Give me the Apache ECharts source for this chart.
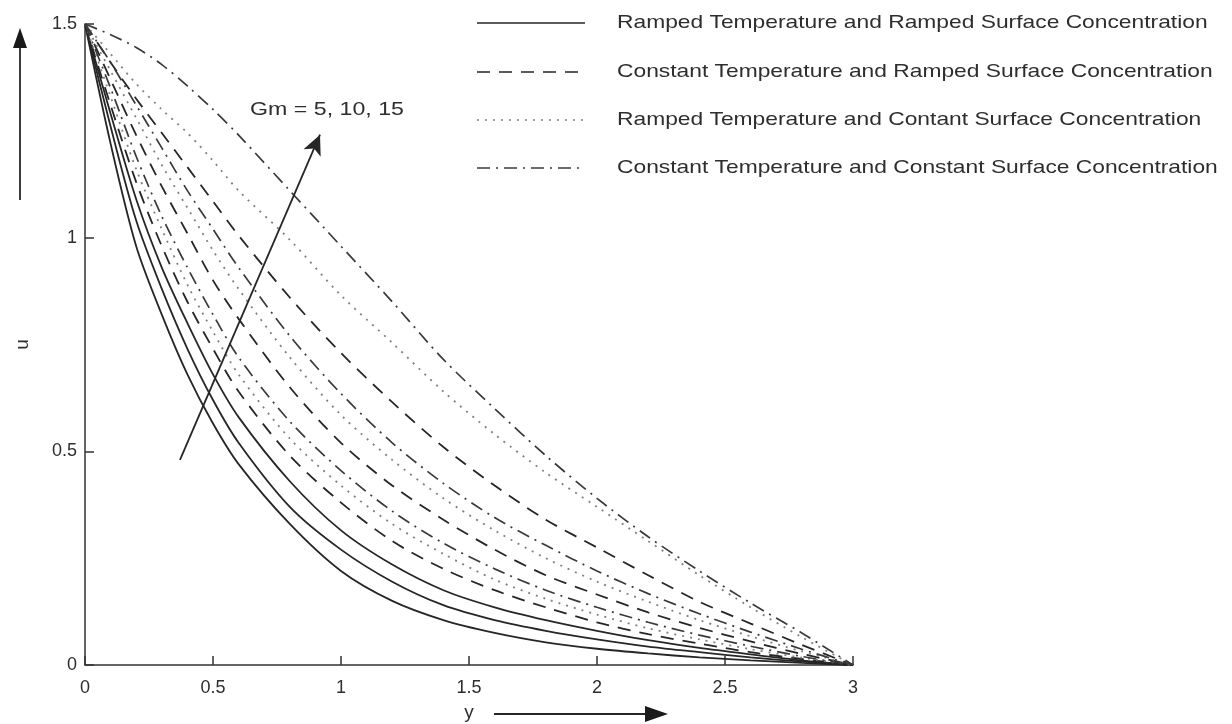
<!DOCTYPE html>
<html>
<head>
<meta charset="utf-8">
<script src="https://cdn.jsdelivr.net/npm/echarts@6/dist/echarts.min.js"></script>
<style>
  html, body { margin: 0; padding: 0; background: #fff; }
  #chart { width: 1232px; height: 724px; }
</style>
</head>
<body>
<div id="chart"></div>
<script>
// y positions (x axis) shared by every curve
const ys = [0, 0.1, 0.2, 0.3, 0.4, 0.5, 0.6, 0.8, 1.0, 1.2, 1.4, 1.6, 1.8, 2.0, 2.2, 2.4, 2.6, 2.8, 3.0];

// Ramped T, ramped C (solid) for Gm = 5, 10, 15
const rrGm5  = [1.5, 1.22, 0.98, 0.82, 0.68, 0.565, 0.47, 0.33, 0.22, 0.15, 0.105, 0.075, 0.053, 0.038, 0.027, 0.018, 0.011, 0.005, 0];
const rrGm10 = [1.5, 1.26, 1.04, 0.88, 0.74, 0.62, 0.52, 0.37, 0.27, 0.195, 0.14, 0.105, 0.08, 0.06, 0.043, 0.03, 0.018, 0.008, 0];
const rrGm15 = [1.5, 1.29, 1.09, 0.93, 0.80, 0.68, 0.58, 0.43, 0.315, 0.235, 0.175, 0.135, 0.105, 0.08, 0.058, 0.04, 0.025, 0.011, 0];

// Constant T, ramped C (dashed)
const crGm5  = [1.5, 1.31, 1.13, 0.98, 0.85, 0.74, 0.64, 0.49, 0.38, 0.29, 0.225, 0.175, 0.135, 0.1, 0.072, 0.05, 0.03, 0.014, 0];
const crGm10 = [1.5, 1.37, 1.24, 1.12, 1.01, 0.9, 0.81, 0.65, 0.52, 0.42, 0.34, 0.27, 0.21, 0.165, 0.123, 0.087, 0.055, 0.026, 0];
const crGm15 = [1.5, 1.41, 1.325, 1.245, 1.165, 1.085, 1.005, 0.86, 0.73, 0.615, 0.51, 0.42, 0.34, 0.275, 0.21, 0.148, 0.097, 0.047, 0];

// Ramped T, constant C (dotted)
const rcGm5  = [1.5, 1.33, 1.16, 1.02, 0.89, 0.78, 0.68, 0.53, 0.42, 0.33, 0.26, 0.2, 0.155, 0.118, 0.086, 0.06, 0.037, 0.017, 0];
const rcGm10 = [1.5, 1.39, 1.28, 1.17, 1.07, 0.97, 0.88, 0.72, 0.585, 0.48, 0.39, 0.315, 0.25, 0.195, 0.148, 0.105, 0.067, 0.032, 0];
const rcGm15 = [1.5, 1.43, 1.36, 1.30, 1.245, 1.18, 1.11, 0.995, 0.865, 0.754, 0.64, 0.54, 0.45, 0.37, 0.29, 0.21, 0.135, 0.065, 0];

// Constant T, constant C (dash-dot)
const ccGm5  = [1.5, 1.35, 1.19, 1.05, 0.93, 0.82, 0.72, 0.57, 0.455, 0.36, 0.285, 0.225, 0.175, 0.135, 0.1, 0.07, 0.044, 0.02, 0];
const ccGm10 = [1.5, 1.41, 1.31, 1.21, 1.11, 1.02, 0.93, 0.77, 0.635, 0.52, 0.425, 0.345, 0.28, 0.22, 0.167, 0.12, 0.077, 0.037, 0];
const ccGm15 = [1.5, 1.475, 1.445, 1.405, 1.355, 1.30, 1.24, 1.11, 0.98, 0.85, 0.715, 0.60, 0.49, 0.39, 0.30, 0.22, 0.145, 0.075, 0];

const xTicks = [0, 0.5, 1, 1.5, 2, 2.5, 3];
const uTicks = [0, 0.5, 1, 1.5];

const names = [
  'Ramped Temperature and Ramped Surface Concentration',
  'Constant Temperature and Ramped Surface Concentration',
  'Ramped Temperature and Contant Surface Concentration',
  'Constant Temperature and Constant Surface Concentration',
];

// gm arrow end points, read in data units
const gmArrow = [[0.371, 0.48], [0.918, 1.241]];

const FONT = 'Liberation Sans, Arial, sans-serif';

const styles = [
  { type: 'solid', color: '#262626', width: 1.8 },
  { type: [13, 9], color: '#262626', width: 1.8 },
  { type: [2, 6], color: '#808080', width: 1.8 },
  { type: [13, 6, 2, 6], color: '#3a3a3a', width: 1.7 },
];

const groups = [
  [rrGm5, rrGm10, rrGm15],
  [crGm5, crGm10, crGm15],
  [rcGm5, rcGm10, rcGm15],
  [ccGm5, ccGm10, ccGm15],
];

const series = [];
groups.forEach((g, gi) => {
  g.forEach((vals) => {
    series.push({
      name: names[gi],
      type: 'line',
      smooth: 0.3,
      symbol: 'none',
      silent: true,
      data: ys.map((y, i) => [y, vals[i]]),
      lineStyle: { type: styles[gi].type, color: styles[gi].color, width: styles[gi].width },
    });
  });
});

series.push({
  type: 'line',
  data: [],
  silent: true,
  markLine: {
    silent: true,
    symbol: ['none', 'arrow'],
    symbolSize: [14, 20],
    label: { show: false },
    lineStyle: { type: 'solid', color: '#262626', width: 1.8 },
    data: [[{ coord: gmArrow[0] }, { coord: gmArrow[1] }]],
  },
});

// legend drawn by hand so the text can be stretched like the scan
const legendRows = [23, 72, 120, 168];
const legendGraphics = [];
names.forEach((n, i) => {
  legendGraphics.push({
    type: 'line',
    shape: { x1: 477, y1: legendRows[i], x2: 585, y2: legendRows[i] },
    style: { stroke: styles[i].color, lineWidth: 1.6, lineDash: styles[i].type === 'solid' ? null : styles[i].type },
  });
  legendGraphics.push({
    type: 'text',
    x: 617,
    y: legendRows[i],
    scaleX: 1.2,
    style: {
      text: n,
      font: '19px ' + FONT,
      fill: '#2e2e2e',
      verticalAlign: 'middle',
    },
  });
});

const chart = echarts.init(document.getElementById('chart'));
chart.setOption({
  animation: false,
  backgroundColor: '#fff',
  grid: { left: 85, right: 379, top: 24, bottom: 59, outerBoundsMode: 'none', containLabel: false },
  xAxis: {
    type: 'value',
    min: 0,
    max: 3,
    interval: 0.5,
    name: 'y',
    nameLocation: 'middle',
    nameGap: 38,
    nameTextStyle: { fontFamily: FONT, fontSize: 19, color: '#2e2e2e' },
    axisLine: { lineStyle: { color: '#333', width: 1.5 } },
    axisTick: { inside: true, length: 9, lineStyle: { color: '#333', width: 1.5 } },
    axisLabel: {
      margin: 14,
      fontFamily: FONT,
      fontSize: 18,
      color: '#2e2e2e',
      formatter: (v) => (xTicks.includes(v) ? String(v) : ''),
    },
    splitLine: { show: false },
  },
  yAxis: {
    type: 'value',
    min: 0,
    max: 1.5,
    interval: 0.5,
    name: 'u',
    nameLocation: 'middle',
    nameRotate: 90,
    nameGap: 53,
    nameTextStyle: { fontFamily: FONT, fontSize: 19, color: '#2e2e2e' },
    axisLine: { show: true, lineStyle: { color: '#333', width: 1.5 } },
    axisTick: { show: true, inside: true, length: 9, lineStyle: { color: '#333', width: 1.5 } },
    axisLabel: {
      margin: 8,
      fontFamily: FONT,
      fontSize: 18,
      color: '#2e2e2e',
      formatter: (v) => (uTicks.includes(v) ? String(v) : ''),
    },
    splitLine: { show: false },
  },
  graphic: legendGraphics.concat([
    {
      type: 'text',
      x: 250,
      y: 110,
      scaleX: 1.22,
      style: {
        text: 'Gm = 5, 10, 15',
        font: '19px ' + FONT,
        fill: '#2e2e2e',
        verticalAlign: 'middle',
      },
    },
    // u arrow
    {
      type: 'line',
      shape: { x1: 20, y1: 200, x2: 20, y2: 42 },
      style: { stroke: '#262626', lineWidth: 1.8 },
    },
    {
      type: 'polygon',
      shape: { points: [[20, 28], [13, 48], [27, 48]] },
      style: { fill: '#1a1a1a' },
    },
    // y arrow
    {
      type: 'line',
      shape: { x1: 494, y1: 714, x2: 650, y2: 714 },
      style: { stroke: '#262626', lineWidth: 1.8 },
    },
    {
      type: 'polygon',
      shape: { points: [[668, 714], [645, 706], [645, 722]] },
      style: { fill: '#1a1a1a' },
    },
  ]),
  series,
});
</script>
</body>
</html>
